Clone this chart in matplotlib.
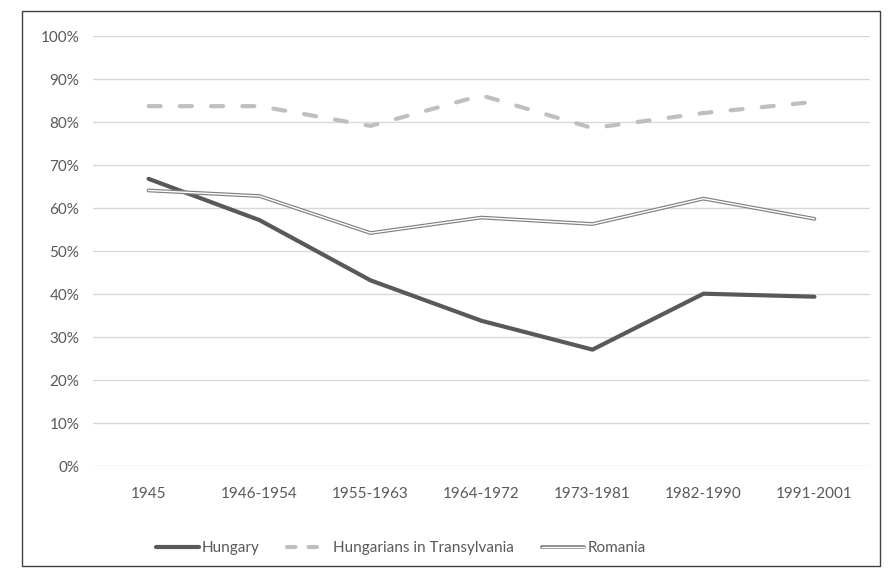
import matplotlib
matplotlib.use("Agg")
import matplotlib.pyplot as plt
from matplotlib.lines import Line2D
from matplotlib.legend_handler import HandlerTuple
from matplotlib.patches import Rectangle
from matplotlib.ticker import PercentFormatter

periods = ["1945", "1946-1954", "1955-1963", "1964-1972", "1973-1981", "1982-1990", "1991-2001"]
hungary = [66.8, 57.2, 43.2, 33.8, 27.1, 40.1, 39.4]
transylvania = [83.7, 83.7, 79.1, 86.2, 78.6, 82.1, 84.7]
romania = [64.1, 62.8, 54.2, 57.8, 56.3, 62.2, 57.5]

plt.rcParams['font.family'] = ['Lato', 'DejaVu Sans']
txt = '#595959'

fig = plt.figure(figsize=(8.95, 5.72), dpi=100)
ax = fig.add_axes([0.104, 0.185, 0.868, 0.752])

x = range(len(periods))
ax.plot(x, hungary, color='#595959', lw=3.0, solid_capstyle='round', zorder=3)
ax.plot(x, transylvania, color='#bfbfbf', lw=3.0, dashes=(2.9, 4.6),
        dash_capstyle='round', zorder=3)
ax.plot(x, romania, color='#808080', lw=2.7, solid_capstyle='round', zorder=3)
ax.plot(x, romania, color='white', lw=1.0, solid_capstyle='round', zorder=4)

ax.set_xlim(-0.5, len(periods) - 0.5)
ax.set_ylim(0, 100)
ax.set_yticks(range(0, 101, 10))
ax.yaxis.set_major_formatter(PercentFormatter(decimals=0))
ax.set_xticks(list(x))
ax.set_xticklabels(periods)
ax.grid(axis='y', color='#d9d9d9', lw=1)
ax.set_axisbelow(True)
for s in ax.spines.values():
    s.set_visible(False)
ax.tick_params(length=0, labelsize=11, labelcolor=txt)
ax.tick_params(axis='x', pad=15)
ax.tick_params(axis='y', pad=10)

h1 = Line2D([], [], color='#595959', lw=3.0, solid_capstyle='round')
h2 = Line2D([], [], color='#bfbfbf', lw=3.0, dashes=(2.0, 3.2), dash_capstyle='round')
h3a = Line2D([], [], color='#808080', lw=2.7, solid_capstyle='round')
h3b = Line2D([], [], color='white', lw=1.0, solid_capstyle='round')
leg = fig.legend([h1, h2, (h3a, h3b)], ["Hungary", "Hungarians in Transylvania", "Romania"],
                 handler_map={tuple: HandlerTuple(ndivide=1)},
                 loc='center', bbox_to_anchor=(0.448, 0.042), ncol=3, frameon=False,
                 fontsize=11, handlelength=2.8, handletextpad=0.2, columnspacing=1.8)
for t in leg.get_texts():
    t.set_color(txt)

fig.patches.append(Rectangle((22 / 895, 1 - 566 / 572), 858 / 895, 555 / 572,
                             transform=fig.transFigure, fill=False,
                             edgecolor='#404040', lw=1.0))

fig.savefig("out.png", dpi=100)
